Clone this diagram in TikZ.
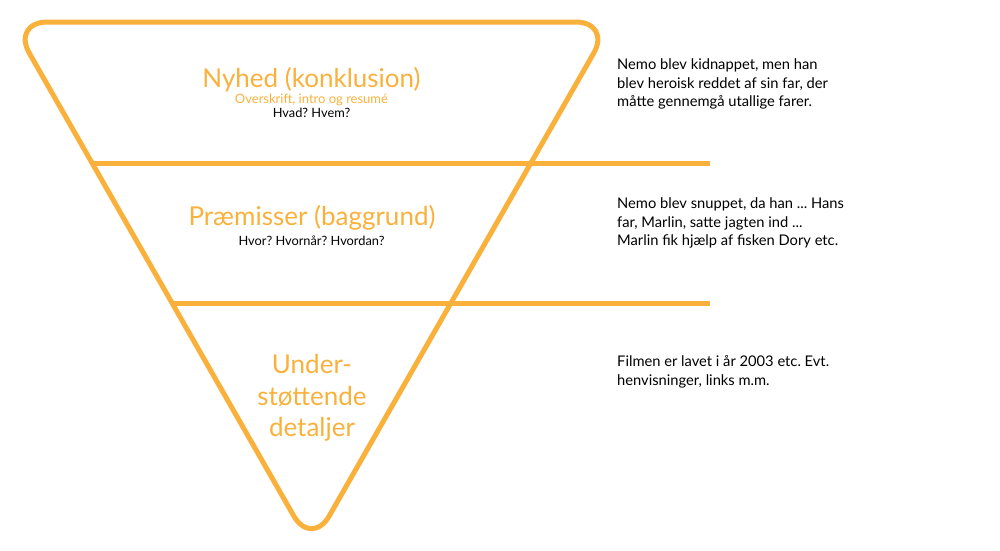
\documentclass[tikz,border=0pt]{standalone}
\usepackage{fontspec}
\setmainfont{Lato}
\frenchspacing
\definecolor{gold}{HTML}{F9B13C}
\begin{document}
\begin{tikzpicture}[x=1pt,y=-1pt,
  tri/.style={draw=gold,line width=5pt,rounded corners=36pt,line join=round},
  sep/.style={draw=gold,line width=5pt},
  head/.style={text=gold,font=\fontsize{26}{32}\selectfont,inner sep=0pt},
  sub/.style={text=gold,font=\fontsize{13}{15}\selectfont,inner sep=0pt},
  ask/.style={text=black,font=\fontsize{12.8}{15}\selectfont,inner sep=0pt},
  side/.style={text=black,font=\fontsize{14.7}{18.4}\selectfont,align=left,anchor=west,inner sep=0pt}]
\useasboundingbox (0,0) rectangle (1000,550);
% funnel
\coordinate (tl) at (11.5,22);
\coordinate (tr) at (611.5,22);
\coordinate (bt) at (311.5,547);
\draw[tri] (tl) -- (tr) -- (bt) -- cycle;
% separators
\coordinate (s1a) at (92,163);
\coordinate (s1b) at (710,163);
\coordinate (s2a) at (172,303);
\coordinate (s2b) at (710,303);
\draw[sep] (s1a) -- (s1b);
\draw[sep] (s2a) -- (s2b);
% section 1
\node[head,anchor=base] (h1) at (311.5,87) {Nyhed (konklusion)};
\node[sub,anchor=base] (h1s) at (311.5,103) {Overskrift, intro og resumé};
\node[ask,anchor=base] (h1q) at (311.5,117.5) {Hvad? Hvem?};
% section 2
\node[head,anchor=base] (h2) at (312,225) {Præmisser (baggrund)};
\node[ask,anchor=base] (h2q) at (311.5,245) {Hvor? Hvornår? Hvordan?};
% section 3
\node[head,anchor=base] (h3a) at (312,373) {Under-};
\node[head,anchor=base] (h3b) at (312,405) {støttende};
\node[head,anchor=base] (h3c) at (312,436.5) {detaljer};
% side texts
\node[side] (t1) at (617,84) {Nemo blev kidnappet, men han\\blev heroisk reddet af sin far, der\\måtte gennemgå utallige farer.};
\node[side] (t2) at (617,223) {Nemo blev snuppet, da han ... Hans\\far, Marlin, satte jagten ind ...\\Marlin fik hjælp af fisken Dory etc.};
\node[side] (t3) at (617,372) {Filmen er lavet i år 2003 etc. Evt.\\henvisninger, links m.m.};
\end{tikzpicture}
\end{document}
